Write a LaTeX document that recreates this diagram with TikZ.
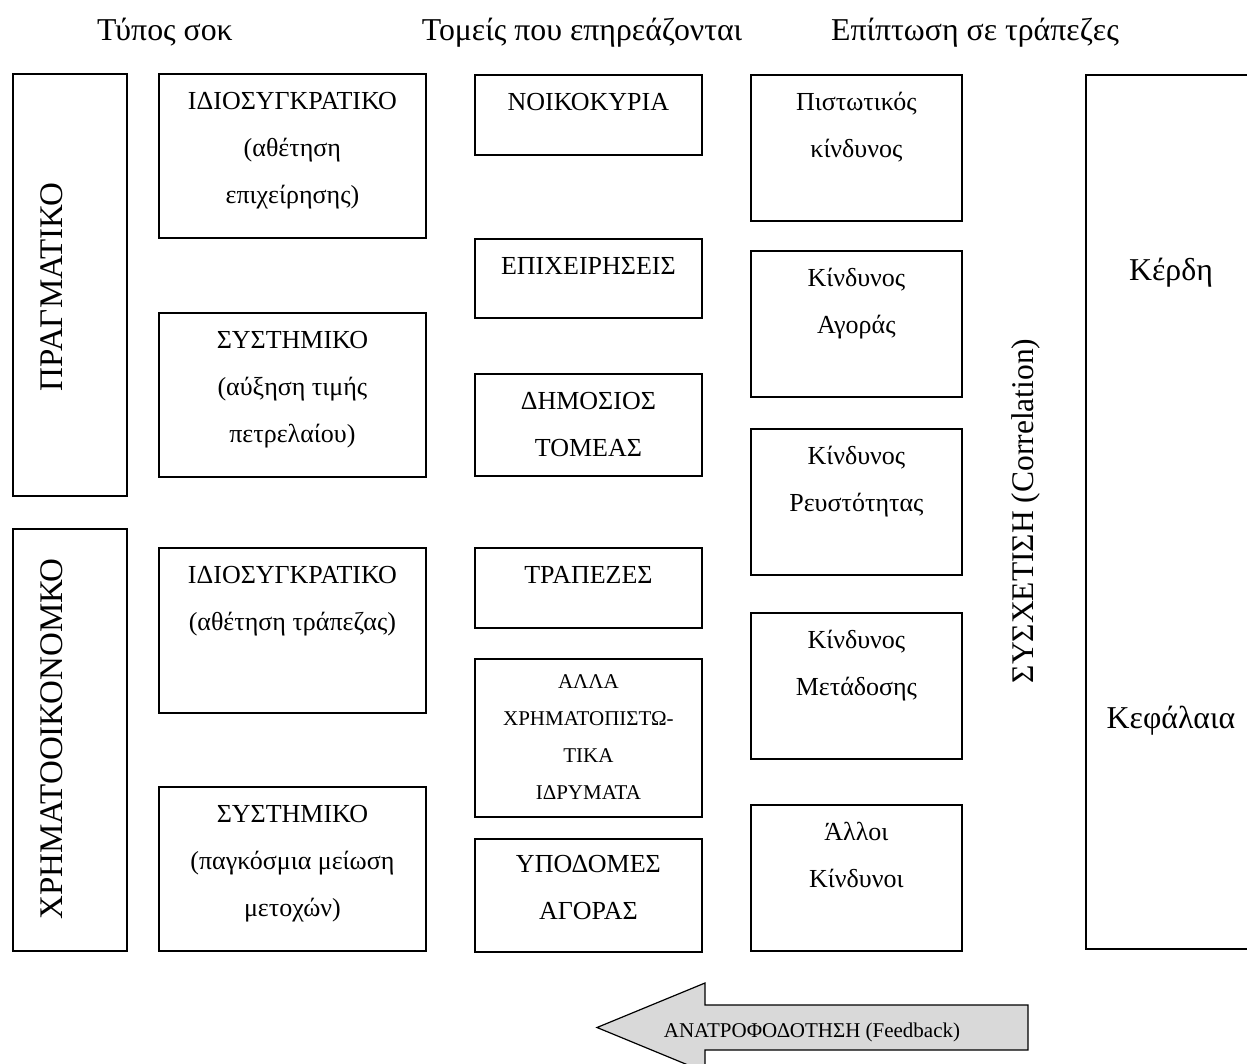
\documentclass[tikz,border=0pt]{standalone}
\usepackage{fontspec}
\setmainfont{Liberation Serif}
\begin{document}
\begin{tikzpicture}[x=1pt,y=-1pt,
  box/.style={draw, line width=1.8pt, inner sep=0pt, anchor=north west},
  txt/.style={inner sep=0pt, align=center, anchor=north, font=\fontsize{26}{47}\selectfont},
  smalltxt/.style={inner sep=0pt, align=center, anchor=north, font=\fontsize{21}{37}\selectfont},
  head/.style={inner sep=0pt, anchor=base, font=\fontsize{31.8}{38}\selectfont},
  vert/.style={inner sep=0pt, anchor=base, rotate=90, font=\fontsize{33}{40}\selectfont},
  arrowtxt/.style={inner sep=0pt, anchor=base, font=\fontsize{21}{25}\selectfont},
]
\useasboundingbox (0,0) rectangle (1247,1064);
\clip (0,0) rectangle (1247,1064);

% headers
\node[head] (h1) at (165,41) {Τύπος σοκ};
\node[head] (h2) at (582,41) {Τομείς που επηρεάζονται};
\node[head] (h3) at (975,41) {Επίπτωση σε τράπεζες};

% column 1
\node[box, minimum width=114pt, minimum height=422pt] (L1) at (12,73) {};
\node[box, minimum width=114pt, minimum height=422pt] (L2) at (12,528) {};
\node[vert] (L1t) at (62,287) {ΠΡΑΓΜΑΤΙΚΟ};
\node[vert] (L2t) at (62,739) {ΧΡΗΜΑΤΟΟΙΚΟΝΟΜΚΟ};

% column 2
\node[box, minimum width=267pt, minimum height=164pt] (C21) at (158,73) {};
\node[box, minimum width=267pt, minimum height=164pt] (C22) at (158,312) {};
\node[box, minimum width=267pt, minimum height=165pt] (C23) at (158,547) {};
\node[box, minimum width=267pt, minimum height=164pt] (C24) at (158,786) {};
\node[txt] (C21t) at ([yshift=-3.6pt]C21.north) {\strut ΙΔΙΟΣΥΓΚΡΑΤΙΚΟ\\(αθέτηση\\επιχείρησης)};
\node[txt] (C22t) at ([yshift=-3.6pt]C22.north) {\strut ΣΥΣΤΗΜΙΚΟ\\(αύξηση τιμής\\πετρελαίου)};
\node[txt] (C23t) at ([yshift=-3.6pt]C23.north) {\strut ΙΔΙΟΣΥΓΚΡΑΤΙΚΟ\\(αθέτηση τράπεζας)};
\node[txt] (C24t) at ([yshift=-3.6pt]C24.north) {\strut ΣΥΣΤΗΜΙΚΟ\\(παγκόσμια μείωση\\μετοχών)};

% column 3
\node[box, minimum width=227pt, minimum height=80pt] (C31) at (474,74) {};
\node[box, minimum width=227pt, minimum height=79pt] (C32) at (474,238) {};
\node[box, minimum width=227pt, minimum height=102pt] (C33) at (474,373) {};
\node[box, minimum width=227pt, minimum height=80pt] (C34) at (474,547) {};
\node[box, minimum width=227pt, minimum height=158pt] (C35) at (474,658) {};
\node[box, minimum width=227pt, minimum height=113pt] (C36) at (474,838) {};
\node[txt] (C31t) at ([yshift=-3.6pt]C31.north) {\strut ΝΟΙΚΟΚΥΡΙΑ};
\node[txt] (C32t) at ([yshift=-3.6pt]C32.north) {\strut ΕΠΙΧΕΙΡΗΣΕΙΣ};
\node[txt] (C33t) at ([yshift=-3.6pt]C33.north) {\strut ΔΗΜΟΣΙΟΣ\\ΤΟΜΕΑΣ};
\node[txt] (C34t) at ([yshift=-3.6pt]C34.north) {\strut ΤΡΑΠΕΖΕΣ};
\node[smalltxt] (C35t) at ([yshift=-4.1pt]C35.north) {\strut ΑΛΛΑ\\ΧΡΗΜΑΤΟΠΙΣΤΩ-\\ΤΙΚΑ\\ΙΔΡΥΜΑΤΑ};
\node[txt] (C36t) at ([yshift=-1.6pt]C36.north) {\strut ΥΠΟΔΟΜΕΣ\\ΑΓΟΡΑΣ};

% column 4
\node[box, minimum width=211pt, minimum height=146pt] (C41) at (750,74) {};
\node[box, minimum width=211pt, minimum height=146pt] (C42) at (750,250) {};
\node[box, minimum width=211pt, minimum height=146pt] (C43) at (750,428) {};
\node[box, minimum width=211pt, minimum height=146pt] (C44) at (750,612) {};
\node[box, minimum width=211pt, minimum height=146pt] (C45) at (750,804) {};
\node[txt] (C41t) at ([yshift=-3.6pt]C41.north) {\strut Πιστωτικός\\κίνδυνος};
\node[txt] (C42t) at ([yshift=-3.6pt]C42.north) {\strut Κίνδυνος\\Αγοράς};
\node[txt] (C43t) at ([yshift=-3.6pt]C43.north) {\strut Κίνδυνος\\Ρευστότητας};
\node[txt] (C44t) at ([yshift=-3.6pt]C44.north) {\strut Κίνδυνος\\Μετάδοσης};
\node[txt] (C45t) at ([yshift=-3.6pt]C45.north) {\strut Άλλοι\\Κίνδυνοι};

% correlation label
\node[inner sep=0pt, anchor=base, rotate=90, font=\fontsize{31.5}{38}\selectfont] (corr) at (1033,511) {ΣΥΣΧΕΤΙΣΗ (Correlation)};

% right box
\node[box, minimum width=175pt, minimum height=874pt] (R) at (1085,74) {};
\node[head] (Rt1) at (1171,281) {Κέρδη};
\node[head] (Rt2) at (1171,728) {Κεφάλαια};

% feedback arrow
\filldraw[fill=gray!30, draw=black, line width=1.2pt, line join=miter]
  (1028,1005) -- (705,1005) -- (705,983) -- (597,1027.5) -- (705,1072)
  -- (705,1050) -- (1028,1050) -- cycle;
\node[arrowtxt] (fb) at (812,1037) {ΑΝΑΤΡΟΦΟΔΟΤΗΣΗ (Feedback)};
\end{tikzpicture}
\end{document}
